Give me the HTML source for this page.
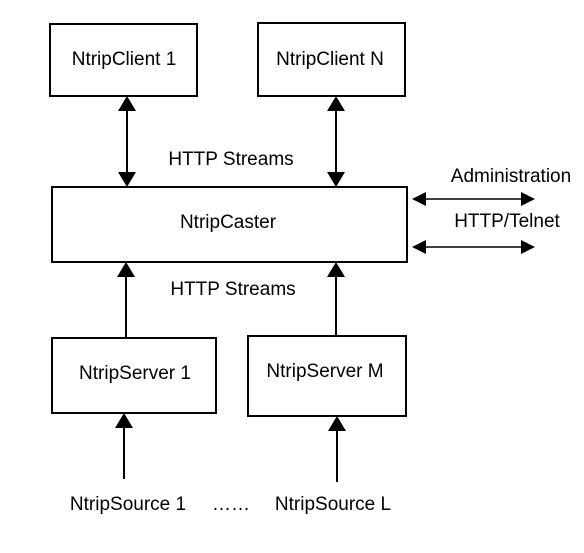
<!DOCTYPE html>
<html><head><meta charset="utf-8"><style>
html,body{margin:0;padding:0;background:#fff;}
svg{display:block;}
text{font-family:"Liberation Sans",Arial,sans-serif;font-size:19px;fill:#000;}
</style></head><body>
<svg width="584" height="553" viewBox="0 0 584 553" xmlns="http://www.w3.org/2000/svg">
<g fill="none" stroke="#000" stroke-width="2">
<rect x="50" y="24" width="147" height="72"/>
<rect x="258" y="23" width="147" height="73"/>
<rect x="52" y="187" width="355" height="75"/>
<rect x="52" y="338" width="164" height="75"/>
<rect x="248" y="336" width="158" height="80"/>
<line x1="127" y1="108" x2="127" y2="175"/>
<line x1="336" y1="108" x2="336" y2="175"/>
<line x1="126" y1="274" x2="126" y2="338"/>
<line x1="336" y1="274" x2="336" y2="336"/>
<line x1="124" y1="425" x2="124" y2="479"/>
<line x1="337" y1="428" x2="337" y2="482"/>
<line x1="424" y1="199" x2="524" y2="199" stroke-width="1.5"/>
<line x1="424" y1="247" x2="524" y2="247" stroke-width="1.5"/>
</g>
<g fill="#000">
<polygon points="127,96 118,111 136,111"/>
<polygon points="127,187 118,172 136,172"/>
<polygon points="336,96 327,111 345,111"/>
<polygon points="336,187 327,172 345,172"/>
<polygon points="126,262 117,277 135,277"/>
<polygon points="336,262 327,277 345,277"/>
<polygon points="124,413 115,428 133,428"/>
<polygon points="337,416 328,431 346,431"/>
<polygon points="412,199 426,192 426,206"/>
<polygon points="535,199 521,192 521,206"/>
<polygon points="412,247 426,240 426,254"/>
<polygon points="535,247 521,240 521,254"/>
</g>
<text x="124" y="65" text-anchor="middle">NtripClient 1</text>
<text x="330" y="65" text-anchor="middle">NtripClient N</text>
<text x="231" y="165" text-anchor="middle">HTTP Streams</text>
<text x="228" y="228" text-anchor="middle">NtripCaster</text>
<text x="233" y="295" text-anchor="middle">HTTP Streams</text>
<text x="511" y="182" text-anchor="middle">Administration</text>
<text x="507" y="227" text-anchor="middle">HTTP/Telnet</text>
<text x="135" y="379" text-anchor="middle">NtripServer 1</text>
<text x="325" y="377" text-anchor="middle">NtripServer M</text>
<text x="128" y="510" text-anchor="middle">NtripSource 1</text>
<text x="231" y="510" text-anchor="middle">……</text>
<text x="333" y="510" text-anchor="middle">NtripSource L</text>
</svg>
</body></html>
